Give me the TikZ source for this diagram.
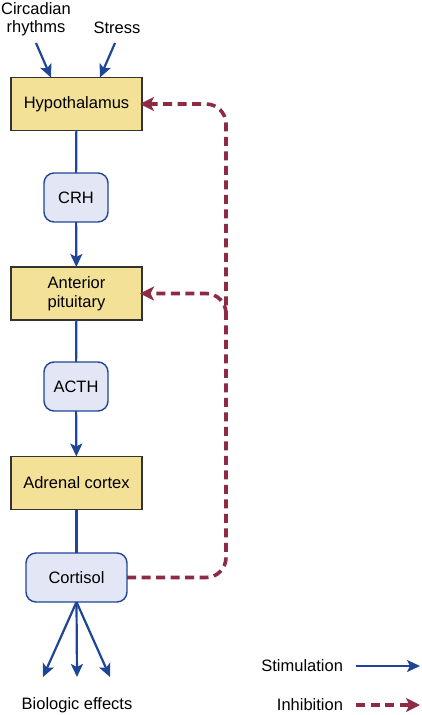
\documentclass[tikz,border=0pt]{standalone}
\usepackage{fontspec}
\setmainfont{Liberation Sans}
\usetikzlibrary{arrows.meta}
\definecolor{stimblue}{HTML}{1F4596}
\definecolor{inhred}{HTML}{8E2A44}
\definecolor{boxyellow}{HTML}{F3E197}
\definecolor{boxlav}{HTML}{E3E6F5}
\begin{document}
\begin{tikzpicture}[x=1pt,y=-1pt,
  every node/.style={font=\fontsize{16.5}{18.5}\selectfont, inner sep=0pt, outer sep=0pt, align=center},
  organ/.style={draw=black!80, line width=1.2pt, fill=boxyellow, minimum width=131, minimum height=53},
  hormone/.style={draw=stimblue, line width=1.4pt, fill=boxlav, rounded corners=10pt, minimum height=49},
  stim/.style={draw=stimblue, line width=2.2pt, -{Stealth[length=13pt,width=12pt,inset=3pt]}},
  stimline/.style={draw=stimblue, line width=2.2pt},
  inhib/.style={draw=inhred, line width=3.6pt, dash pattern=on 9pt off 5.5pt, rounded corners=20pt},
  inhtip/.style={-{Stealth[length=14pt,width=14pt,inset=3.5pt]}}
]
\useasboundingbox (0,0) rectangle (421,715);
% nodes
\node (circ) at (36,19) {Circadian\\rhythms};
\node (stress) at (117,28) {Stress};
\coordinate (c1) at (36,43);
\coordinate (s1) at (115,43);
\node[organ] (hyp) at (76.5,104) {Hypothalamus};
\node[hormone, minimum width=64] (crh) at (76,197.5) {CRH};
\node[organ] (ap) at (76.5,293.5) {Anterior\\pituitary};
\node[hormone, minimum width=64] (acth) at (76,386.5) {ACTH};
\node[organ] (adr) at (76.5,483) {Adrenal cortex};
\node[hormone, minimum width=101] (cort) at (76.5,577.5) {Cortisol};
\coordinate (e1) at (43,677);
\coordinate (e2) at (77,677);
\coordinate (e3) at (110,677);
\node (bio) at (77,705) {Biologic effects};
% legend
\node[anchor=east] (lstim) at (343,666) {Stimulation};
\node[anchor=east] (linh) at (343,705) {Inhibition};
\coordinate (ls1) at (356,666);
\coordinate (ls2) at (420,666);
\coordinate (li1) at (356,705);
\coordinate (li2) at (420,705);
\coordinate (vtop) at (226,104);
\coordinate (vbr) at (226,314);
% stimulation arrows
\draw[stim] (c1) -- (hyp.north -| 51,0);
\draw[stim] (s1) -- (hyp.north -| 100,0);
\draw[stimline] (hyp) -- (crh);
\draw[stim] (crh) -- (ap);
\draw[stimline] (ap) -- (acth);
\draw[stim] (acth) -- (adr);
\draw[stimline] (adr) -- (cort);
\draw[stim] (cort.south) -- (e1);
\draw[stim] (cort.south) -- (e2);
\draw[stim] (cort.south) -- (e3);
\draw[stim] (ls1) -- (ls2);
% inhibition
\draw[inhib, inhtip, shorten >=-2pt] (cort.east) -| (vtop) -- (hyp.east);
\draw[inhib, inhtip, shorten >=-2pt] (vbr) |- (ap.east);
\draw[inhib, inhtip, rounded corners=0pt] (li1) -- (li2);
\end{tikzpicture}
\end{document}
